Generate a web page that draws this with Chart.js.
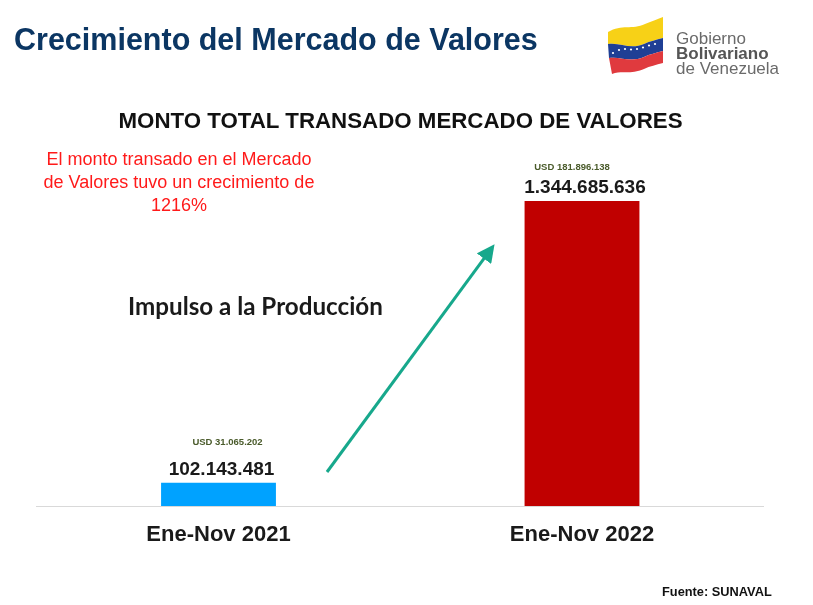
<!DOCTYPE html>
<html>
<head>
<meta charset="utf-8">
<script src="https://cdn.jsdelivr.net/npm/chart.js@4/dist/chart.umd.min.js"></script>
<style>
  html, body { margin:0; padding:0; background:#fff; }
  #wrap { position:relative; width:813px; height:605px; overflow:hidden; font-family:"Liberation Sans", Arial, sans-serif; }
  #chartBox { position:absolute; left:0; top:0; width:813px; height:605px; }
  .t { position:absolute; white-space:nowrap; line-height:1; }
  #mainTitle { left:14px; top:23.7px; font-size:30.5px; font-weight:bold; color:#0b3663; }
  #chartTitle { left:0; width:801px; text-align:center; top:110px; font-size:22.3px; font-weight:bold; color:#111; }
  #note { left:20px; width:318px; text-align:center; top:148.3px; font-size:18px; line-height:23px; color:#ff1a1a; white-space:normal; }
  #impulso { left:128px; top:293.5px; font-family:Lato, "Liberation Sans", sans-serif; font-size:24.2px; font-weight:bold; color:#1a1a1a; }
  #fuente { left:662px; top:586px; font-size:12.8px; font-weight:bold; color:#111; }
  .logo { left:676px; font-size:17px; color:#6a6a6a; }
  #arrow { position:absolute; left:0; top:0; }
  #flag { position:absolute; left:600px; top:10px; }
</style>
</head>
<body>
<div id="wrap">
  <div id="chartBox"><canvas id="c"></canvas></div>
  <div class="t" id="mainTitle">Crecimiento del Mercado de Valores</div>
  <div class="t" id="chartTitle">MONTO TOTAL TRANSADO MERCADO DE VALORES</div>
  <div class="t" id="note">El monto transado en el Mercado<br>de Valores tuvo un crecimiento de<br>1216%</div>
  <div class="t" id="impulso">Impulso a la Producción</div>
  <div class="t" id="fuente">Fuente: SUNAVAL</div>
  <div class="t logo" style="top:29.5px;">Gobierno</div>
  <div class="t logo" style="top:45px;font-weight:bold;color:#555;">Bolivariano</div>
  <div class="t logo" style="top:60px;">de Venezuela</div>
  <svg id="flag" width="70" height="70" viewBox="600 10 70 70">
    <path d="M608,32 C622,24 632,30 645,24 C652,21 658,19 663,17 L663,38 C656,40 650,41 644,44 C630,50 620,42 608,44 Z" fill="#f7d117"/>
    <path d="M608,44 C620,42 630,50 644,44 C650,41 656,40 663,38 L663,51 C656,53 650,54 644,57 C630,63 620,56 609,58 Z" fill="#1f3f95"/>
    <path d="M609,58 C620,56 630,63 644,57 C650,54 656,53 663,51 L663,63 C656,65 650,66 644,69 C630,75 622,70 612,74 Z" fill="#e03a3e"/>
    <g fill="#fff">
      <circle cx="613" cy="53" r="1.1"/><circle cx="619" cy="50" r="1.1"/><circle cx="625" cy="49" r="1.1"/>
      <circle cx="631" cy="49.5" r="1.1"/><circle cx="637" cy="49" r="1.1"/><circle cx="643" cy="47.5" r="1.1"/>
      <circle cx="649" cy="45.5" r="1.1"/><circle cx="655" cy="44" r="1.1"/>
    </g>
  </svg>
  <svg id="arrow" width="813" height="605">
    <defs>
      <marker id="ah" markerWidth="6" markerHeight="6" refX="4" refY="3" orient="auto" markerUnits="strokeWidth">
        <path d="M0,0 L6,3 L0,6 Z" fill="#17a88c"/>
      </marker>
    </defs>
    <line x1="327" y1="472" x2="491" y2="249" stroke="#17a88c" stroke-width="3" marker-end="url(#ah)"/>
  </svg>
</div>
<script>
const categories = ["Ene-Nov 2021", "Ene-Nov 2022"];
const montoBs = [102143481, 1344685636];
const montoUSD = [31065202, 181896138];
const valueLabels = ["102.143.481", "1.344.685.636"];
const usdLabels = ["USD 31.065.202", "USD 181.896.138"];
const barColors = ["#00a2ff", "#c00000"];

const labelPlugin = {
  id: 'barLabels',
  afterDatasetsDraw(chart, args, opts) {
    const ctx = chart.ctx;
    const meta = chart.getDatasetMeta(0);
    meta.data.forEach((bar, i) => {
      ctx.save();
      ctx.textAlign = 'center';
      ctx.textBaseline = 'alphabetic';
      ctx.fillStyle = '#1a1a1a';
      ctx.font = 'bold 19px "Liberation Sans", Arial, sans-serif';
      ctx.fillText(valueLabels[i], bar.x + 3, bar.y - 8);
      ctx.fillStyle = '#4a5b2b';
      ctx.font = 'bold 9.5px "Liberation Sans", Arial, sans-serif';
      ctx.fillText(usdLabels[i], bar.x + opts.usdDx[i], bar.y - opts.usdDy[i]);
      ctx.restore();
    });
  }
};

new Chart(document.getElementById('c'), {
  type: 'bar',
  data: {
    labels: categories,
    datasets: [{
      data: montoBs,
      backgroundColor: barColors,
      borderWidth: 0,
      categoryPercentage: 1,
      barPercentage: 0.316
    }]
  },
  options: {
    responsive: true,
    maintainAspectRatio: false,
    animation: false,
    layout: { padding: { left: 36.75, right: 49.25, top: 143, bottom: 0 } },
    plugins: {
      legend: { display: false },
      tooltip: { enabled: false },
      barLabels: { usdDx: [9, -10], usdDy: [38, 31] }
    },
    scales: {
      y: { display: false, min: 0, max: 1600000000 },
      x: {
        grid: { display: false },
        border: { display: true, color: '#d9d9d9', width: 1 },
        ticks: {
          color: '#1a1a1a',
          padding: 8,
          font: { family: '"Liberation Sans", Arial, sans-serif', size: 22, weight: 'bold' }
        },
        afterFit(scale) { scale.height = 99; }
      }
    }
  },
  plugins: [labelPlugin]
});
</script>
</body>
</html>
